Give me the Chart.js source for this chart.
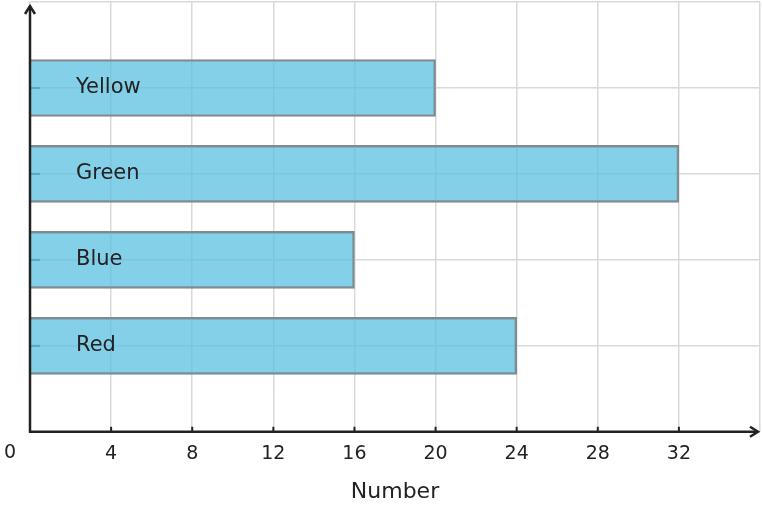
<!DOCTYPE html>
<html>
<head>
<meta charset="utf-8">
<script src="https://cdn.jsdelivr.net/npm/chart.js@4/dist/chart.umd.min.js"></script>
<style>
  html, body { margin: 0; padding: 0; background: #fff; }
  #wrap { width: 763px; height: 508px; }
</style>
</head>
<body>
<div id="wrap"><canvas id="chart"></canvas></div>
<script>
"use strict";

// data
const categories = ['Red', 'Blue', 'Green', 'Yellow'];
const values = [24, 16, 32, 20];
const rowPositions = [1, 2, 3, 4];
const xTicks = [0, 4, 8, 12, 16, 20, 24, 28, 32, 36];

const AXIS_COLOR = '#222';
const FONT = '"DejaVu Sans", sans-serif';

// axes with arrowheads, tick marks, origin label, labels inside the bars
const decorPlugin = {
  id: 'decor',
  beforeDatasetsDraw(chart) {
    const ctx = chart.ctx;
    const y = chart.scales.y;
    const left = chart.chartArea.left;
    ctx.save();
    ctx.strokeStyle = '#666';
    ctx.lineWidth = 2;
    rowPositions.forEach(p => {
      const py = y.getPixelForValue(p);
      ctx.beginPath();
      ctx.moveTo(left, py);
      ctx.lineTo(left + 10, py);
      ctx.stroke();
    });
    ctx.restore();
  },
  afterDatasetsDraw(chart) {
    const ctx = chart.ctx;
    const x = chart.scales.x;
    const y = chart.scales.y;
    const area = chart.chartArea;
    ctx.save();

    // bar labels
    ctx.fillStyle = '#222';
    ctx.font = '21px ' + FONT;
    ctx.textAlign = 'left';
    ctx.textBaseline = 'middle';
    categories.forEach((c, i) => {
      ctx.fillText(c, area.left + 46, y.getPixelForValue(rowPositions[i]));
    });

    // x tick marks
    ctx.strokeStyle = AXIS_COLOR;
    ctx.lineWidth = 2;
    xTicks.slice(1, -1).forEach(t => {
      const px = x.getPixelForValue(t);
      ctx.beginPath();
      ctx.moveTo(px, area.bottom - 5);
      ctx.lineTo(px, area.bottom);
      ctx.stroke();
    });

    // axes
    ctx.lineWidth = 2.5;
    ctx.lineCap = 'butt';
    ctx.beginPath();
    ctx.moveTo(area.left, area.bottom + 1);
    ctx.lineTo(area.left, area.top + 4);
    ctx.moveTo(area.left - 1, area.bottom);
    ctx.lineTo(area.right - 2, area.bottom);
    ctx.stroke();
    ctx.lineJoin = 'miter';
    ctx.beginPath();
    ctx.moveTo(area.left - 5, area.top + 12);
    ctx.lineTo(area.left, area.top + 4);
    ctx.lineTo(area.left + 5, area.top + 12);
    ctx.moveTo(area.right - 10, area.bottom - 5);
    ctx.lineTo(area.right - 2, area.bottom);
    ctx.lineTo(area.right - 10, area.bottom + 5);
    ctx.stroke();

    // origin label
    ctx.fillStyle = '#222';
    ctx.font = '19px ' + FONT;
    ctx.textAlign = 'center';
    ctx.textBaseline = 'middle';
    ctx.fillText('0', area.left - 20, area.bottom + 21);
    ctx.restore();
  }
};

new Chart(document.getElementById('chart'), {
  type: 'bar',
  data: {
    datasets: [{
      label: 'Number',
      data: values.map((v, i) => ({ x: v, y: rowPositions[i] })),
      backgroundColor: 'rgba(90, 192, 225, 0.74)',
      borderColor: '#888',
      borderWidth: 2,
      borderSkipped: 'left',
      barThickness: 57
    }]
  },
  options: {
    indexAxis: 'y',
    responsive: true,
    maintainAspectRatio: false,
    animation: false,
    layout: { padding: { left: 30, right: 3, top: 2, bottom: 3 } },
    plugins: {
      legend: { display: false },
      tooltip: { enabled: false }
    },
    scales: {
      x: {
        type: 'linear',
        min: 0,
        max: 36,
        border: { display: false },
        grid: { color: '#d9d9d9', lineWidth: 1.5, drawTicks: false },
        ticks: {
          stepSize: 4,
          padding: 11,
          color: '#222',
          font: { family: FONT, size: 19 },
          callback: v => (v === 0 || v === 36) ? '' : v
        },
        title: {
          display: true,
          text: 'Number',
          color: '#222',
          font: { family: FONT, size: 22 },
          padding: { top: 2, bottom: 0 }
        },
        afterFit(scale) {
          scale.paddingRight = 0;
        }
      },
      y: {
        type: 'linear',
        min: 0,
        max: 5,
        offset: false,
        border: { display: false },
        grid: { color: '#d9d9d9', lineWidth: 1.5, drawTicks: false, offset: false },
        ticks: { display: false, stepSize: 1 }
      }
    }
  },
  plugins: [decorPlugin]
});
</script>
</body>
</html>
